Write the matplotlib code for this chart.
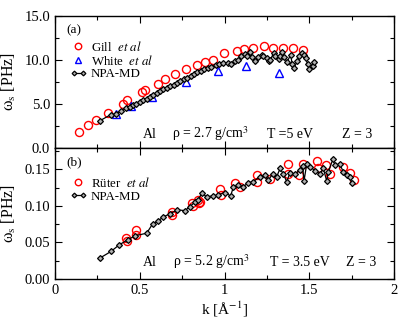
import matplotlib
matplotlib.use("Agg")
import matplotlib.pyplot as plt
from matplotlib.ticker import MultipleLocator, FormatStrFormatter
from matplotlib.legend_handler import HandlerLine2D

plt.rcParams['font.family'] = ['Liberation Serif', 'DejaVu Serif']
plt.rcParams['mathtext.fontset'] = 'stix'

# ---------------- data: panel (a) ----------------
gill_k = [0.142, 0.196, 0.244, 0.314, 0.399, 0.425, 0.512, 0.533, 0.608, 0.651,
          0.710, 0.773, 0.836, 0.883, 0.934, 0.999, 1.072, 1.117, 1.170, 1.233,
          1.288, 1.343, 1.402, 1.461]
gill_w = [1.85, 2.61, 3.18, 3.98, 4.97, 5.45, 6.33, 6.56, 7.31, 7.84,
          8.41, 8.94, 9.40, 9.81, 9.97, 10.80, 10.99, 11.25, 11.40, 11.56,
          11.40, 11.36, 11.33, 11.14]

white_k = [0.358, 0.448, 0.574, 0.773, 0.963, 1.125, 1.322]
white_w = [3.83, 4.77, 5.83, 7.47, 8.78, 9.35, 8.56]

npa_a_k = [0.265, 0.33, 0.36, 0.39, 0.42, 0.44, 0.46, 0.48, 0.50, 0.52, 0.54,
           0.56, 0.58, 0.60, 0.62, 0.64, 0.66, 0.68, 0.70, 0.72, 0.74, 0.76,
           0.78, 0.80, 0.82, 0.84, 0.86, 0.88, 0.90, 0.92, 0.95, 0.97, 0.99,
           1.02, 1.04, 1.06, 1.08, 1.10, 1.12, 1.13, 1.15, 1.16, 1.18, 1.20,
           1.22, 1.23, 1.25, 1.26, 1.27, 1.29, 1.30, 1.32, 1.33, 1.34, 1.35,
           1.37, 1.39, 1.40, 1.41, 1.43, 1.44, 1.46, 1.47, 1.48, 1.49, 1.50,
           1.52, 1.53]
npa_a_w = [3.1, 3.8, 3.9, 4.2, 4.5, 4.7, 4.9, 5.0, 5.2, 5.5, 5.6,
           5.8, 6.0, 6.3, 6.5, 6.7, 6.8, 7.0, 7.2, 7.4, 7.6, 7.8,
           8.0, 8.2, 8.4, 8.6, 8.8, 9.0, 9.1, 9.2, 9.4, 9.6, 9.7,
           9.7, 9.6, 9.9, 10.0, 10.4, 10.7, 10.5, 10.9, 10.3, 9.9, 10.3,
           10.6, 10.4, 10.2, 9.9, 10.0, 10.8, 10.5, 10.1, 10.5, 10.9, 10.3,
           9.8, 10.6, 9.5, 9.1, 9.9, 10.4, 10.8, 10.6, 10.2, 9.5, 9.0,
           9.3, 9.8]

# ---------------- data: panel (b) ----------------
ruter_k = [0.419, 0.423, 0.478, 0.478, 0.688, 0.688, 0.810, 0.812, 0.842, 0.850,
           0.855, 0.973, 0.977, 1.062, 1.091, 1.194, 1.194, 1.268, 1.376, 1.376,
           1.442, 1.465, 1.544, 1.554, 1.599, 1.623, 1.697, 1.740, 1.766]
ruter_w = [0.0567, 0.0526, 0.0671, 0.0603, 0.0912, 0.0876, 0.1035, 0.0998, 0.108, 0.1035,
           0.1057, 0.1226, 0.115, 0.1316, 0.1253, 0.142, 0.133, 0.136, 0.157, 0.144,
           0.142, 0.157, 0.1615, 0.151, 0.1557, 0.1434, 0.1534, 0.1444, 0.135]

npa_b_k = [0.265, 0.33, 0.379, 0.429, 0.472, 0.541, 0.576, 0.609, 0.639, 0.678,
           0.721, 0.767, 0.796, 0.826, 0.845, 0.865, 0.895, 0.934, 0.963, 1.003,
           1.036, 1.052, 1.081, 1.111, 1.14, 1.17, 1.21, 1.239, 1.259, 1.285,
           1.308, 1.328, 1.347, 1.367, 1.386, 1.416, 1.445, 1.461, 1.469, 1.485,
           1.504, 1.534, 1.563, 1.583, 1.603, 1.613, 1.639, 1.652, 1.681, 1.70,
           1.721, 1.74, 1.75]
npa_b_w = [0.0286, 0.0376, 0.0467, 0.0535, 0.059, 0.0626, 0.0753, 0.0794, 0.0849, 0.089,
           0.0944, 0.0935, 0.099, 0.105, 0.108, 0.117, 0.1125, 0.1135, 0.115, 0.118,
           0.1135, 0.1253, 0.1284, 0.126, 0.1316, 0.133, 0.14, 0.142, 0.135, 0.144,
           0.14, 0.151, 0.1434, 0.133, 0.145, 0.1434, 0.149, 0.154, 0.134, 0.157,
           0.1534, 0.148, 0.1434, 0.151, 0.134, 0.1466, 0.1634, 0.1557, 0.157, 0.1466,
           0.142, 0.14, 0.1316]

labels_a = ["Gill  $\\it{et\\ al}$", "White  $\\it{et\\ al}$", "NPA-MD"]
labels_b = ["Rüter  $\\it{et\\ al}$", "NPA-MD"]
yticks_a = [0.0, 5.0, 10.0, 15.0]
yticks_b = [0.00, 0.05, 0.10, 0.15]
xticks = [0, 0.5, 1, 1.5, 2]
xticklabels = ["0", "0.5", "1", "1.5", "2"]

# ---------------- figure ----------------
W, H = 415, 321
fig = plt.figure(figsize=(W / 100, H / 100), dpi=100)
L, R = 55 / W, 394 / W
ax_a = fig.add_axes([L, 1 - 148 / H, R - L, (148 - 16) / H])
ax_b = fig.add_axes([L, 1 - 279 / H, R - L, (279 - 148) / H])

npa_style = dict(color='black', lw=0.9, marker='D', ms=3.0, mfc='#b0b0b0',
                 mec='black', mew=0.9)

ga, = ax_a.plot(gill_k, gill_w, ls='none', marker='o', ms=5.8, mfc='none',
                mec='red', mew=1.0)
wa, = ax_a.plot(white_k, white_w, ls='none', marker='^', ms=5.5, mfc='none',
                mec='blue', mew=1.0)
na, = ax_a.plot(npa_a_k, npa_a_w, **npa_style)

rb, = ax_b.plot(ruter_k, ruter_w, ls='none', marker='o', ms=5.8, mfc='none',
                mec='red', mew=1.0)
nb, = ax_b.plot(npa_b_k, npa_b_w, **npa_style)

for ax in (ax_a, ax_b):
    ax.set_xlim(0, 2)
    ax.xaxis.set_minor_locator(MultipleLocator(0.25))
    ax.tick_params(which='both', direction='in', top=True, right=True,
                   labelsize=10.5, width=0.8)
    ax.tick_params(which='major', length=5)
    ax.tick_params(which='minor', length=3)
    for s in ax.spines.values():
        s.set_linewidth(1.0)

ax_a.set_ylim(0, 15)
ax_a.set_yticks(yticks_a)
ax_a.yaxis.set_major_formatter(FormatStrFormatter('%.1f'))
ax_a.yaxis.set_minor_locator(MultipleLocator(2.5))
ax_a.set_xticks(xticks)
ax_a.tick_params(labelbottom=False)

ax_b.set_ylim(0, 0.179)
ax_b.set_yticks(yticks_b)
ax_b.yaxis.set_major_formatter(FormatStrFormatter('%.2f'))
ax_b.yaxis.set_minor_locator(MultipleLocator(0.025))
ax_b.set_xticks(xticks)
ax_b.set_xticklabels(xticklabels)

ylab = "ω$_\\mathrm{s}$ [PHz]"
ax_a.set_ylabel(ylab, fontsize=11.5)
ax_b.set_ylabel(ylab, fontsize=11.5)
ax_a.yaxis.set_label_coords(-0.11, 0.5)
ax_b.yaxis.set_label_coords(-0.11, 0.5)
ax_b.set_xlabel("k [Å$^{-1}$]", fontsize=11, labelpad=2)

# panel tags
ax_a.text(0.035, 0.871, "(a)", transform=ax_a.transAxes, fontsize=9.5, va='baseline')
ax_b.text(0.035, (279 - 165) / 131, "(b)", transform=ax_b.transAxes, fontsize=9.5, va='baseline')

# annotations
def annot(ax, y_base_px, y0_px, h_px, items):
    yb = (y0_px - y_base_px) / h_px
    for xpx, s in items:
        ax.text((xpx - 55) / 339, yb, s, transform=ax.transAxes,
                fontsize=10, va='baseline')

annot(ax_a, 137.5, 148, 132, [(142.5, "Al"), (172, "ρ = 2.7 g/cm$^3$"),
                              (267, "T =5 eV"), (342, "Z = 3")])
annot(ax_b, 266, 279, 131, [(142.5, "Al"), (173, "ρ = 5.2 g/cm$^3$"),
                            (270, "T = 3.5 eV"), (346, "Z = 3")])

# legends
leg_kw = dict(frameon=False, fontsize=9.3, handlelength=1.3, markerscale=0.8,
              handletextpad=0.3, borderpad=0, borderaxespad=0, numpoints=1)
la = ax_a.legend([ga, wa, na], labels_a, loc='upper left',
                 bbox_to_anchor=((70 - 55) / 339, (148 - 40) / 132),
                 labelspacing=0.0,
                 handler_map={na: HandlerLine2D(numpoints=2)}, **leg_kw)
lb = ax_b.legend([rb, nb], labels_b, loc='upper left',
                 bbox_to_anchor=((70 - 55) / 339, (279 - 176) / 131),
                 labelspacing=0.05,
                 handler_map={nb: HandlerLine2D(numpoints=2)}, **leg_kw)

fig.savefig("out.png", dpi=100)
